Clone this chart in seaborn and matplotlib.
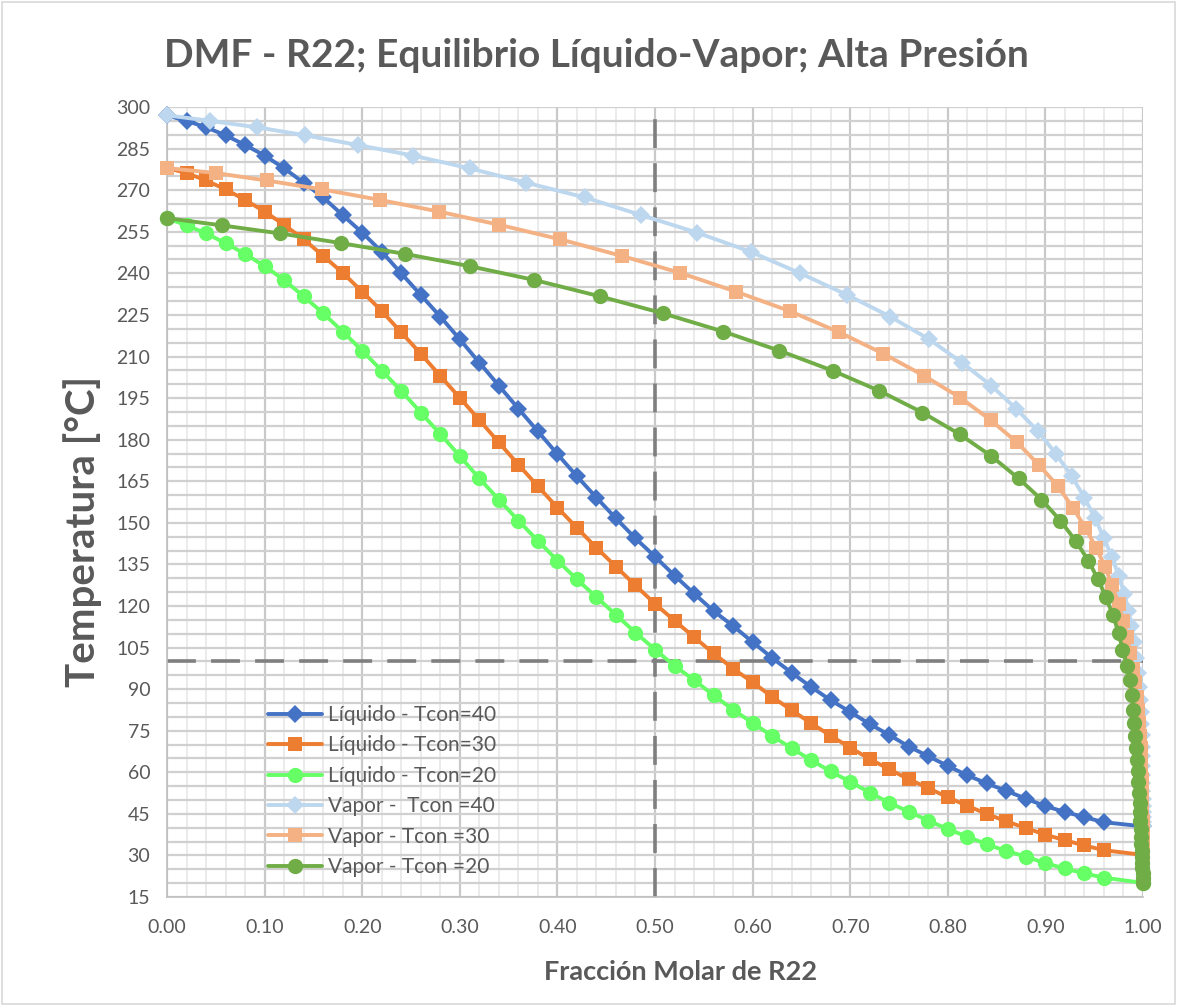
import matplotlib
matplotlib.use("Agg")
import matplotlib.pyplot as plt
from matplotlib.ticker import MultipleLocator, FormatStrFormatter
from matplotlib.patches import Rectangle
import seaborn as sns

# Liquid composition grid (mole fraction of R22)
x_liquid = [0.00, 0.02, 0.04, 0.06, 0.08, 0.10, 0.12, 0.14, 0.16, 0.18,
            0.20, 0.22, 0.24, 0.26, 0.28, 0.30, 0.32, 0.34, 0.36, 0.38,
            0.40, 0.42, 0.44, 0.46, 0.48, 0.50, 0.52, 0.54, 0.56, 0.58,
            0.60, 0.62, 0.64, 0.66, 0.68, 0.70, 0.72, 0.74, 0.76, 0.78,
            0.80, 0.82, 0.84, 0.86, 0.88, 0.90, 0.92, 0.94, 0.96, 1.00]

# Equilibrium temperatures [°C] for each condensing temperature
temp_tcon40 = [297.0, 295.0, 292.7, 289.8, 286.3, 282.5, 277.9, 272.7, 267.4, 261.0,
               254.7, 247.8, 240.0, 232.2, 224.4, 216.2, 207.8, 199.5, 191.2, 183.0,
               174.8, 166.8, 159.1, 151.6, 144.4, 137.8, 131.0, 124.5, 118.2, 112.8,
               107.0, 101.3, 95.9, 90.8, 86.0, 81.8, 77.4, 73.5, 69.3, 65.8,
               62.3, 58.9, 56.0, 53.3, 50.5, 47.8, 45.7, 43.8, 42.0, 40.5]

temp_tcon30 = [278.0, 276.2, 273.5, 270.3, 266.5, 262.3, 257.5, 252.3, 246.3, 240.2,
               233.4, 226.4, 218.7, 211.0, 203.0, 195.1, 187.1, 179.0, 171.0, 163.2,
               155.5, 148.2, 141.0, 134.2, 127.4, 120.8, 114.7, 108.8, 102.9, 97.4,
               92.5, 87.2, 82.4, 77.7, 73.2, 68.9, 64.8, 61.1, 57.5, 54.3,
               51.0, 47.9, 45.0, 42.3, 39.9, 37.5, 35.5, 33.6, 31.9, 30.2]

temp_tcon20 = [259.9, 257.3, 254.4, 250.9, 247.0, 242.6, 237.6, 231.7, 225.6, 219.0,
               212.1, 204.9, 197.6, 189.8, 182.0, 174.1, 166.0, 158.4, 150.8, 143.5,
               136.4, 129.6, 123.2, 116.8, 110.4, 104.3, 98.4, 93.3, 87.8, 82.6,
               77.8, 73.1, 68.7, 64.4, 60.3, 56.6, 52.7, 49.0, 45.8, 42.6,
               39.5, 36.8, 34.0, 31.6, 29.6, 27.2, 25.3, 23.5, 22.0, 20.1]

# Vapor compositions in equilibrium with each liquid point
y_vapor_tcon40 = [0.000, 0.0444, 0.092, 0.1416, 0.1956, 0.252, 0.310, 0.368, 0.428, 0.486,
                  0.543, 0.598, 0.649, 0.697, 0.741, 0.781, 0.8144, 0.8445, 0.870, 0.8925,
                  0.911, 0.927, 0.940, 0.951, 0.960, 0.968, 0.975, 0.981, 0.985, 0.988,
                  0.991, 0.993, 0.995, 0.996, 0.997, 0.9975, 0.998, 0.9985, 0.9988, 0.999,
                  0.9992, 0.9993, 0.9994, 0.9995, 0.9996, 0.9997, 0.9998, 0.9998, 0.9999, 1.000]

y_vapor_tcon30 = [0.000, 0.0498, 0.102, 0.159, 0.218, 0.2785, 0.3406, 0.4027, 0.4658, 0.5256,
                  0.583, 0.638, 0.689, 0.734, 0.776, 0.813, 0.8438, 0.871, 0.893, 0.913,
                  0.928, 0.941, 0.952, 0.961, 0.9685, 0.975, 0.980, 0.984, 0.987, 0.990,
                  0.992, 0.9935, 0.9948, 0.996, 0.9968, 0.9975, 0.998, 0.9984, 0.9987, 0.999,
                  0.9992, 0.9994, 0.9995, 0.9996, 0.9997, 0.9998, 0.9999, 0.9999, 1.000, 1.000]

y_vapor_tcon20 = [0.000, 0.0563, 0.116, 0.1785, 0.244, 0.310, 0.3765, 0.4436, 0.508, 0.570,
                  0.6275, 0.682, 0.730, 0.774, 0.812, 0.8445, 0.8726, 0.896, 0.9154, 0.931,
                  0.944, 0.954, 0.962, 0.969, 0.975, 0.979, 0.984, 0.987, 0.9885, 0.990,
                  0.991, 0.992, 0.993, 0.994, 0.9947, 0.9953, 0.996, 0.9965, 0.997, 0.9974,
                  0.9978, 0.9981, 0.9984, 0.9987, 0.999, 0.9993, 0.9995, 0.9997, 0.9999, 1.000]

# Reference lines
x_reference = 0.50
t_reference = 100

series = [
    ("Líquido - Tcon=40", x_liquid, temp_tcon40, "#4472C4", "D", 9.0),
    ("Líquido - Tcon=30", x_liquid, temp_tcon30, "#ED7D31", "s", 10.5),
    ("Líquido - Tcon=20", x_liquid, temp_tcon20, "#66FF66", "o", 11.0),
    ("Vapor -  Tcon =40", y_vapor_tcon40, temp_tcon40, "#BDD7EE", "D", 9.0),
    ("Vapor - Tcon =30", y_vapor_tcon30, temp_tcon30, "#F4B183", "s", 10.5),
    ("Vapor - Tcon =20", y_vapor_tcon20, temp_tcon20, "#70AD47", "o", 11.0),
]

sns.set_theme(style="white")
plt.rcParams["font.family"] = ["Lato", "DejaVu Sans"]
TEXT = "#595959"

fig = plt.figure(figsize=(11.77, 10.06), dpi=100)
fig.patch.set_facecolor("white")
fig.add_artist(Rectangle((0.002, 0.002), 0.996, 0.996, transform=fig.transFigure,
                         fill=False, edgecolor="#D9D9D9", linewidth=1.2))
ax = fig.add_axes([0.1419, 0.1083, 0.8292, 0.7853])

ax.axvline(x_reference, color="#7F7F7F", lw=2.6, dashes=(8, 4.2), zorder=1.8)
ax.axhline(t_reference, color="#7F7F7F", lw=2.6, dashes=(8, 4.2), zorder=1.8)

for label, xs, ts, color, marker, ms in series:
    sns.lineplot(x=xs, y=ts, estimator=None, sort=False, ax=ax, color=color,
                 linewidth=2.8, marker=marker, markersize=ms, markeredgewidth=0,
                 label=label, clip_on=False, zorder=3)

ax.set_xlim(0, 1)
ax.set_ylim(15, 300)
ax.xaxis.set_major_locator(MultipleLocator(0.1))
ax.xaxis.set_minor_locator(MultipleLocator(0.02))
ax.yaxis.set_major_locator(MultipleLocator(15))
ax.yaxis.set_minor_locator(MultipleLocator(5))
ax.xaxis.set_major_formatter(FormatStrFormatter("%.2f"))

ax.set_axisbelow(True)
ax.grid(which="major", axis="x", color="#C9C9C9", linewidth=1.6)
ax.grid(which="minor", axis="x", color="#EBEBEB", linewidth=1.4)
ax.grid(which="both", axis="y", color="#D0D0D0", linewidth=1.6)

ax.tick_params(which="major", direction="out", length=6, width=1.2, color="#BFBFBF",
               labelsize=14, labelcolor=TEXT, pad=6)
ax.tick_params(which="minor", length=0)
ax.tick_params(axis="x", pad=10)
for side in ("top", "right"):
    ax.spines[side].set_visible(False)
for side in ("left", "bottom"):
    ax.spines[side].set_color("#BFBFBF")
    ax.spines[side].set_linewidth(1.2)

ax.set_xlabel("")
ax.set_ylabel("")
fig.text(0.070, 0.472, "Temperatura [°C]", rotation=90, ha="center", va="center",
         fontsize=29, fontweight="bold", color=TEXT)
fig.text(0.578, 0.034, "Fracción Molar de R22", ha="center", va="center",
         fontsize=19.5, fontweight="bold", color=TEXT)
fig.text(0.507, 0.945, "DMF - R22; Equilibrio Líquido-Vapor; Alta Presión",
         ha="center", va="center", fontsize=28, fontweight="bold", color=TEXT)

leg = ax.legend(loc="upper left", bbox_to_anchor=(0.103, 0.243), frameon=False,
                fontsize=15, labelcolor=TEXT, handlelength=2.6, handletextpad=0.3,
                labelspacing=0.5, borderpad=0, borderaxespad=0)

fig.savefig("out.png", dpi=100, facecolor="white")
